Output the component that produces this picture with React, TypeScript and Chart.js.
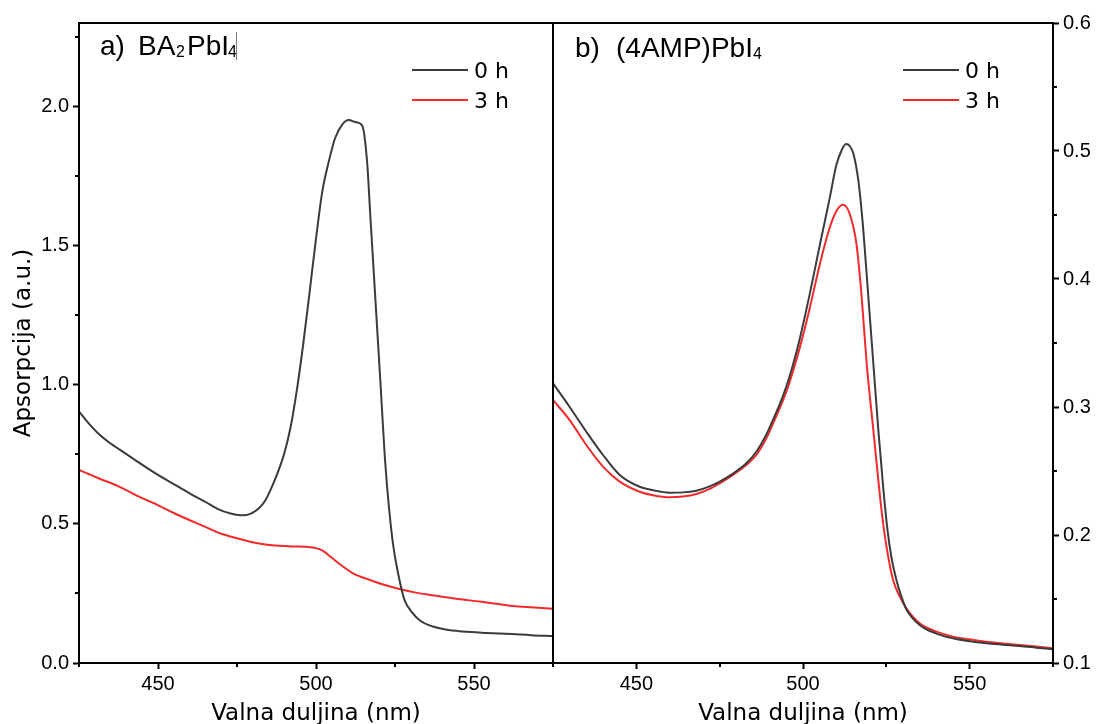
import React, { useEffect, useRef } from 'react';
import { Chart, registerables } from 'chart.js';

Chart.register(...registerables);

// ---------- DATA ----------
const seriesLabels = ['0 h', '3 h'];
const xTitle = 'Valna duljina (nm)';
const yTitle = 'Apsorpcija (a.u.)';

// Panel a) BA2PbI4
const leftWl0 = [425, 428, 431, 435, 438, 444, 450, 455, 460, 465, 469, 473, 476, 478, 480, 482, 484, 486, 488, 490, 492, 494, 496, 498, 500, 502, 504, 506, 508.3, 510.4, 512.5, 514.6, 516.2, 517.2, 518.8, 520.4, 522, 524.2, 526.4, 528, 530.6, 533, 537, 541, 546.5, 554, 562, 568, 575];
const leftAbs0 = [0.904, 0.862, 0.826, 0.789, 0.766, 0.72, 0.676, 0.643, 0.61, 0.579, 0.553, 0.537, 0.531, 0.532, 0.54, 0.557, 0.585, 0.632, 0.688, 0.755, 0.85, 0.985, 1.15, 1.335, 1.525, 1.695, 1.8, 1.885, 1.935, 1.951, 1.944, 1.932, 1.797, 1.605, 1.306, 1.006, 0.706, 0.442, 0.299, 0.227, 0.179, 0.152, 0.131, 0.12, 0.113, 0.108, 0.104, 0.1, 0.097];
const leftWl3 = [425, 431, 437.7, 444, 450.4, 455, 459.9, 465, 469.4, 475, 479.9, 484, 488.4, 492, 496.8, 499.5, 502.1, 505, 508.5, 512, 516.9, 521, 526.4, 532, 539.1, 545, 551.8, 557, 562.3, 568, 575];
const leftAbs3 = [0.694, 0.665, 0.634, 0.598, 0.565, 0.539, 0.514, 0.489, 0.467, 0.448, 0.434, 0.426, 0.421, 0.419, 0.418, 0.414, 0.404, 0.378, 0.347, 0.32, 0.299, 0.283, 0.266, 0.252, 0.24, 0.23, 0.221, 0.213, 0.205, 0.2, 0.195];

// Panel b) (4AMP)PbI4
const rightWl0 = [425, 430, 435, 440, 445, 451, 455, 460, 464, 468, 472, 475, 479, 483, 486, 489, 491, 493, 495, 497, 499, 502, 505, 508, 510, 511.5, 512.9, 514, 515.1, 516.6, 518.1, 519.6, 521.1, 522.6, 524.1, 525.3, 526.5, 528, 529.5, 531, 535, 540, 545, 550, 555, 560, 565, 570, 575];
const rightAbs0 = [0.3185, 0.3, 0.2807, 0.2625, 0.2469, 0.2377, 0.235, 0.2331, 0.2333, 0.2346, 0.238, 0.2417, 0.248, 0.256, 0.265, 0.2785, 0.29, 0.302, 0.316, 0.333, 0.353, 0.388, 0.426, 0.463, 0.489, 0.5, 0.5055, 0.504, 0.498, 0.477, 0.438, 0.386, 0.334, 0.282, 0.236, 0.205, 0.183, 0.165, 0.152, 0.142, 0.1297, 0.123, 0.1193, 0.117, 0.1154, 0.1143, 0.1133, 0.112, 0.1107];
const rightWl3 = [425, 430, 435, 440, 445, 451, 455, 460, 464, 468, 472, 475, 479, 483, 486, 489, 491, 493, 495, 497, 499, 502, 505, 508, 510, 512, 514, 516, 517.6, 519.1, 521.1, 523.1, 524.3, 525.5, 527, 529, 531, 535, 540, 545, 550, 555, 560, 565, 570, 575];
const rightAbs3 = [0.3055, 0.2898, 0.2703, 0.2534, 0.2417, 0.2338, 0.231, 0.2294, 0.23, 0.232, 0.236, 0.2404, 0.247, 0.2547, 0.2625, 0.2755, 0.287, 0.299, 0.312, 0.328, 0.346, 0.377, 0.411, 0.44, 0.453, 0.458, 0.451, 0.428, 0.386, 0.334, 0.282, 0.23, 0.204, 0.184, 0.165, 0.152, 0.1427, 0.131, 0.1245, 0.1206, 0.1185, 0.1166, 0.1153, 0.114, 0.1128, 0.1115];

const xMajorTicks = [450, 500, 550];
const xMinorTicks = [425, 475, 525, 575];
const leftYMajor = [0, 0.5, 1.0, 1.5, 2.0];
const leftYMinor = [0.25, 0.75, 1.25, 1.75, 2.25];
const rightYMajor = [0.1, 0.2, 0.3, 0.4, 0.5, 0.6];
const rightYMinor = [0.15, 0.25, 0.35, 0.45, 0.55];

// ---------- STYLE ----------
const COLOR0 = '#3b3b3b';
const COLOR3 = '#f42a2a';
const ARIAL = '"Liberation Sans", Arial, sans-serif';
const DEJAVU = '"DejaVu Sans", sans-serif';
const H = 724;

type Seg = { text: string; x?: number; size: number; dy?: number };

type Panel = {
  side: 'left' | 'right';
  offsetX: number;
  canvasW: number;
  padLeft: number;
  padRight: number;
  yAxisW: number;
  yMin: number;
  yMax: number;
  yMajor: number[];
  yMinor: number[];
  wl0: number[];
  abs0: number[];
  wl3: number[];
  abs3: number[];
  title: Seg[];
  titleBaseline: number;
  cursorX?: number;
  legendX: number;
};

function drawSegs(ctx: CanvasRenderingContext2D, segs: Seg[], baseline: number) {
  let cx = 0;
  ctx.textAlign = 'left';
  ctx.textBaseline = 'alphabetic';
  for (const s of segs) {
    if (s.x !== undefined) cx = s.x;
    ctx.font = `${s.size}px ${ARIAL}`;
    ctx.fillText(s.text, cx, baseline + (s.dy || 0));
    cx += ctx.measureText(s.text).width;
  }
}

function buildPanel(canvas: HTMLCanvasElement, p: Panel) {
  const decor = {
    id: 'decor_' + p.side,
    afterDraw(chart: any) {
      const ctx: CanvasRenderingContext2D = chart.ctx;
      const { left, top, right, bottom } = chart.chartArea;
      const xs = chart.scales.x;
      const ys = chart.scales.y;
      ctx.save();
      // frame
      ctx.strokeStyle = '#000';
      ctx.lineWidth = 2;
      ctx.strokeRect(left, top, right - left, bottom - top);
      // minor ticks
      ctx.beginPath();
      for (const v of xMinorTicks) {
        const px = Math.round(xs.getPixelForValue(v));
        ctx.moveTo(px, bottom);
        ctx.lineTo(px, bottom + 4);
      }
      for (const v of p.yMinor) {
        const py = Math.round(ys.getPixelForValue(v));
        if (p.side === 'left') {
          ctx.moveTo(left, py);
          ctx.lineTo(left - 4, py);
        } else {
          ctx.moveTo(right, py);
          ctx.lineTo(right + 4, py);
        }
      }
      ctx.stroke();

      // page coordinates from here
      ctx.translate(-p.offsetX, 0);
      ctx.fillStyle = '#000';
      drawSegs(ctx, p.title, p.titleBaseline);
      if (p.cursorX !== undefined) {
        ctx.strokeStyle = '#7a7a7a';
        ctx.lineWidth = 1;
        ctx.beginPath();
        ctx.moveTo(p.cursorX + 0.5, 32);
        ctx.lineTo(p.cursorX + 0.5, 60);
        ctx.stroke();
      }

      // legend
      const colors = [COLOR0, COLOR3];
      const ly = [70, 100];
      for (let i = 0; i < 2; i++) {
        ctx.strokeStyle = colors[i];
        ctx.lineWidth = 2;
        ctx.beginPath();
        ctx.moveTo(p.legendX, ly[i]);
        ctx.lineTo(p.legendX + 56, ly[i]);
        ctx.stroke();
        ctx.fillStyle = '#000';
        ctx.font = `22px ${DEJAVU}`;
        ctx.textAlign = 'left';
        ctx.textBaseline = 'alphabetic';
        ctx.fillText(seriesLabels[i], p.legendX + 62, ly[i] + 8);
      }

      // x axis title
      ctx.font = `23px ${DEJAVU}`;
      ctx.textAlign = 'center';
      ctx.textBaseline = 'alphabetic';
      const cx = p.offsetX + (left + right) / 2;
      ctx.fillText(xTitle, cx, 720);

      // y axis title (left panel only)
      if (p.side === 'left') {
        ctx.save();
        ctx.translate(30, (top + bottom) / 2);
        ctx.rotate(-Math.PI / 2);
        ctx.fillText(yTitle, 0, 0);
        ctx.restore();
      }
      ctx.restore();
    },
  };

  const tickFont = { family: ARIAL, size: 20 };
  const gridCfg = {
    display: true,
    drawOnChartArea: false,
    drawTicks: true,
    tickLength: 6,
    tickWidth: 2,
    color: '#000',
    tickColor: '#000',
  };

  return new Chart(canvas, {
    type: 'line',
    data: {
      datasets: [
        {
          label: seriesLabels[0],
          data: p.wl0.map((x, i) => ({ x, y: p.abs0[i] })),
          borderColor: COLOR0,
          borderWidth: 2,
          pointRadius: 0,
          cubicInterpolationMode: 'monotone',
          fill: false,
        },
        {
          label: seriesLabels[1],
          data: p.wl3.map((x, i) => ({ x, y: p.abs3[i] })),
          borderColor: COLOR3,
          borderWidth: 2,
          pointRadius: 0,
          cubicInterpolationMode: 'monotone',
          fill: false,
        },
      ],
    },
    options: {
      responsive: false,
      animation: false,
      devicePixelRatio: 1,
      layout: { padding: { top: 23, left: p.padLeft, right: p.padRight, bottom: 0 } },
      plugins: { legend: { display: false }, tooltip: { enabled: false } },
      scales: {
        x: {
          type: 'linear',
          position: 'bottom',
          min: 425,
          max: 575,
          afterBuildTicks: (s: any) => {
            s.ticks = xMajorTicks.map((v) => ({ value: v }));
          },
          afterFit: (s: any) => {
            s.height = H - 663;
          },
          ticks: {
            font: tickFont,
            color: '#000',
            padding: 3,
            maxRotation: 0,
            autoSkip: false,
            callback: (v: any) => String(v),
          },
          grid: gridCfg,
          border: { display: false },
        },
        y: {
          type: 'linear',
          position: p.side,
          min: p.yMin,
          max: p.yMax,
          afterBuildTicks: (s: any) => {
            s.ticks = p.yMajor.map((v) => ({ value: v }));
          },
          afterFit: (s: any) => {
            s.width = p.yAxisW;
          },
          ticks: {
            font: tickFont,
            color: '#000',
            padding: 4,
            autoSkip: false,
            callback: (v: any) => Number(v).toFixed(1),
          },
          grid: gridCfg,
          border: { display: false },
        },
      },
    } as any,
    plugins: [decor],
  });
}

const leftPanel: Panel = {
  side: 'left',
  offsetX: 0,
  canvasW: 557,
  padLeft: 0,
  padRight: 4,
  yAxisW: 79,
  yMin: 0,
  yMax: 2.3,
  yMajor: leftYMajor,
  yMinor: leftYMinor,
  wl0: leftWl0,
  abs0: leftAbs0,
  wl3: leftWl3,
  abs3: leftAbs3,
  title: [
    { text: 'a)', x: 100, size: 28 },
    { text: 'BA', x: 138, size: 28 },
    { text: '2', x: 176, size: 16, dy: 2 },
    { text: 'PbI', x: 187, size: 28 },
    { text: '4', x: 228, size: 16, dy: 2 },
  ],
  titleBaseline: 55,
  cursorX: 236,
  legendX: 412,
};

const rightPanel: Panel = {
  side: 'right',
  offsetX: 540,
  canvasW: 557,
  padLeft: 13,
  padRight: 0,
  yAxisW: 44,
  yMin: 0.1,
  yMax: 0.6,
  yMajor: rightYMajor,
  yMinor: rightYMinor,
  wl0: rightWl0,
  abs0: rightAbs0,
  wl3: rightWl3,
  abs3: rightAbs3,
  title: [
    { text: 'b)', x: 575, size: 28 },
    { text: '(4AMP)PbI', x: 616, size: 28 },
    { text: '4', size: 16, dy: 2 },
  ],
  titleBaseline: 57,
  legendX: 903,
};

export default function App() {
  const leftRef = useRef<HTMLCanvasElement>(null);
  const rightRef = useRef<HTMLCanvasElement>(null);

  useEffect(() => {
    document.body.style.margin = '0';
    document.body.style.background = '#fff';
    const charts: Chart[] = [];
    if (leftRef.current) charts.push(buildPanel(leftRef.current, leftPanel));
    if (rightRef.current) charts.push(buildPanel(rightRef.current, rightPanel));
    return () => charts.forEach((c) => c.destroy());
  }, []);

  return (
    <div style={{ position: 'fixed', left: 0, top: 0, width: 1097, height: H, background: '#fff', overflow: 'hidden' }}>
      <canvas
        ref={leftRef}
        width={leftPanel.canvasW}
        height={H}
        style={{ position: 'absolute', left: leftPanel.offsetX, top: 0, width: leftPanel.canvasW, height: H }}
      />
      <canvas
        ref={rightRef}
        width={rightPanel.canvasW}
        height={H}
        style={{ position: 'absolute', left: rightPanel.offsetX, top: 0, width: rightPanel.canvasW, height: H }}
      />
    </div>
  );
}
